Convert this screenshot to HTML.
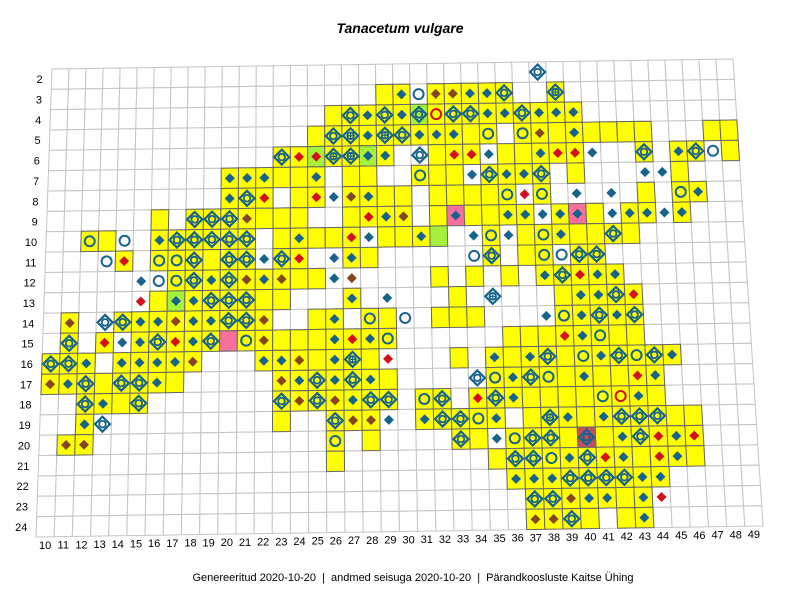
<!DOCTYPE html>
<html><head><meta charset="utf-8"><style>
html,body{margin:0;padding:0;background:#fff;}
svg{display:block;font-family:"Liberation Sans",Arial,sans-serif;}
</style></head><body>
<svg id="map" width="800" height="600" viewBox="0 0 800 600" xmlns="http://www.w3.org/2000/svg">
<rect width="800" height="600" fill="#fff"/>
<text x="400" y="33" text-anchor="middle" font-size="14" font-weight="bold" font-style="italic">Tanacetum vulgare</text>
<g id="cells"></g><g id="syms"></g><g id="labels"></g>
<text x="413" y="581" text-anchor="middle" font-size="11" style="white-space:pre">Genereeritud 2020-10-20  |  andmed seisuga 2020-10-20  |  Pärandkoosluste Kaitse Ühing</text>
</svg>
<script>
const colLabels = [10,11,12,13,14,15,16,17,18,19,20,21,22,23,24,25,26,27,28,29,30,31,32,33,34,35,36,37,38,39,40,41,42,43,44,45,46,47,48,49];
const rowLabels = [2,3,4,5,6,7,8,9,10,11,12,13,14,15,16,17,18,19,20,21,22,23,24];
const rowCodes = [
"38x",
"29y 30D 31o 32B 33B 34D 35D 36X 39C",
"26y 27X 28D 29X 30D 31h 32q 33X 34X 35D 36D 37X 38D 39D 40D",
"25y 26X 27C 28D 29C 30X 31D 32D 33D 34y 35O 37O 38B 39y 40D 41y 42y 43y 44y 48y 49y",
"23X 24R 25j 26C 27C 28G 29D 31x 32y 33R 34R 35d 36y 37y 38D 39R 40R 41d 44X 46D 47X 48o 49y",
"20D 21D 22D 23y 24y 25D 27y 28y 31O 32y 33y 34d 35X 36D 37D 38X 40y 44d 45d 46y",
"20D 21X 22R 24y 25R 26d 27B 28D 29y 30y 32y 33y 34y 35y 36O 37r 38O 40d 42d 44y 46O 47D",
"16y 18X 19X 20X 21B 22y 23y 24y 27y 28R 29D 30B 32y 33P 34y 35y 36D 37D 38d 39D 40P 41y 42d 43D 44D 45d 46D",
"12O 13y 14o 16D 17X 18X 19X 20X 21X 23y 24D 25y 26y 27R 28d 29y 30y 31D 32g 34d 35O 36d 37y 38O 39D 40y 41y 42X 43y",
"13o 14R 16O 17O 18X 19y 20X 21X 22d 23X 24R 26d 27D 28y 34o 35X 37y 38O 39o 40X 41X",
"15d 16o 17O 18X 19D 20X 21B 22D 23B 24y 25y 26d 27b 32y 34y 36y 38D 39X 40R 41D 42D",
"15r 16y 17G 18D 19X 20X 21X 22y 23y 27D 29d 33y 35c 39y 40D 41D 42X 43R",
"11B 13x 14X 15D 16D 17B 18D 19D 20X 21X 22B 25y 26D 28O 29y 30o 32y 33y 34y 38d 39O 40D 41X 42D 43X",
"11X 13R 14d 15D 16X 17R 18D 19X 20p 21O 22B 23y 24y 25y 26D 27R 28D 29O 36y 37y 38y 39R 40D 41O 42y 43y",
"10X 11X 12D 14D 15D 16D 17D 18B 22D 23D 24B 25y 26D 27C 28y 29r 33y 35D 36y 37D 38X 39y 40O 41D 42X 43O 44X 45D",
"10B 11D 12X 13y 14X 15X 16D 17y 23B 24D 25X 26D 27X 28D 29y 34x 35O 36D 37X 38O 39y 40D 41y 42y 43R 44D",
"12X 13D 14y 15X 23X 24B 25X 26B 27D 28X 29X 31O 32X 34R 35X 36D 37y 38y 39y 40y 41O 42q 43D 44y",
"12D 13x 23y 26X 27B 28B 29d 31D 32X 33X 34O 35D 37y 38C 39D 40y 41D 42X 43X 44X 45y 46y",
"11B 12B 26O 28y 33X 34y 35d 36O 37X 38X 39y 40m 41y 42D 43X 44R 45D 46R",
"26y 35y 36X 37X 38O 39D 40X 41R 42D 43y 44R 45D 46y",
"36D 37D 38D 39X 40X 41X 42X 43D 44D",
"37X 38X 39B 40D 41D 42y 43D 44r",
"37B 38B 39X 40y 42y 43D"
];
const NS="http://www.w3.org/2000/svg";
const TL=[52,69],TR=[733,59],BL=[36,537],BR=[763,526];
function P(u,v){return [(1-v)*((1-u)*TL[0]+u*TR[0])+v*((1-u)*BL[0]+u*BR[0]),(1-v)*((1-u)*TL[1]+u*TR[1])+v*((1-u)*BL[1]+u*BR[1])];}
const nC=colLabels.length,nR=rowLabels.length;
function xU(c){return (c-colLabels[0])/nC;}
function yV(r){return (r-rowLabels[0])/nR;}
function quad(c,r){const u0=xU(c),u1=xU(c+1),v0=yV(r),v1=yV(r+1);return [P(u0,v0),P(u1,v0),P(u1,v1),P(u0,v1)].map(p=>p[0].toFixed(1)+","+p[1].toFixed(1)).join(" ");}
const gC=document.getElementById('cells'),gS=document.getElementById('syms'),gL=document.getElementById('labels');
function mk(t,a,parent){const e=document.createElementNS(NS,t);for(const k in a)e.setAttribute(k,a[k]);parent.appendChild(e);return e;}
for(const r of rowLabels){for(const c of colLabels){
 const e=mk('polygon',{points:quad(c,r),fill:'#fff',stroke:'#c4c4c4','stroke-width':'1'},gC);
 
 
}}
const BLUE='#17638c',RED='#d4101c',BROWN='#86461f';
const fills={y:'#ffff00',g:'#a6f23a',G:'#a6f23a',h:'#a6f23a',j:'#a6f23a',p:'#f76f9c',P:'#f76f9c',m:'#c4505a'};
function dia(x,y,s,opt){return mk('polygon',Object.assign({points:`${x},${y-s} ${x+s},${y} ${x},${y+s} ${x-s},${y}`},opt),gS);}
rowCodes.forEach((line,i)=>{
 const r=rowLabels[i];
 line.split(' ').forEach(tok=>{
  const c=parseInt(tok),k=tok.replace(/[0-9]/g,'');
  let fill=null;
  if(fills[k])fill=fills[k];else if(k>='A'&&k<='Z'||k==='q')fill=fills.y;
  if(fill){const e=mk('polygon',{points:quad(c,r),fill:fill,stroke:'#666','stroke-width':'1'},gC);
   
   }
  const [x,y]=P((xU(c)+xU(c+1))/2,(yV(r)+yV(r+1))/2);
  const t=k.toLowerCase();let s=null;
  if(t==='d'||k==='G'||k==='P'){s=dia(x,y,5,{fill:BLUE});}
  else if(t==='r'||k==='j'){s=dia(x,y,5,{fill:RED});}
  else if(t==='b'){s=dia(x,y,5,{fill:BROWN});}
  else if(t==='o'){s=mk('circle',{cx:x,cy:y,r:5,fill:'none',stroke:BLUE,'stroke-width':2},gS);}
  else if(k==='q'){s=mk('circle',{cx:x,cy:y,r:5,fill:'none',stroke:RED,'stroke-width':2},gS);}
  else if(t==='x'||k==='h'||k==='m'||t==='c'){
   s=dia(x,y,7.5,{fill:'none',stroke:BLUE,'stroke-width':2.2});
   const ci=mk('circle',{cx:x,cy:y,r:3.3,fill:'none',stroke:BLUE,'stroke-width':1.8},gS);
   
   
   if(t==='c'){const l1=mk('path',{d:`M${x-3.3},${y}H${x+3.3}M${x},${y-3.3}V${y+3.3}`,stroke:BLUE,'stroke-width':1.2},gS);
    
    }
  }
  if(s){
   }
 });
});
rowLabels.forEach(r=>{
 const [x,y]=P(0,(yV(r)+yV(r+1))/2);
 const e=mk('text',{x:x-9,y:y+4,'text-anchor':'end','font-size':'11'},gL);e.textContent=r;
 
 
});
colLabels.forEach(c=>{
 const [x,y]=P((xU(c)+xU(c+1))/2,1);
 const e=mk('text',{x:x,y:y+12,'text-anchor':'middle','font-size':'11'},gL);e.textContent=c;
 
 
});
</script>
</body></html>
